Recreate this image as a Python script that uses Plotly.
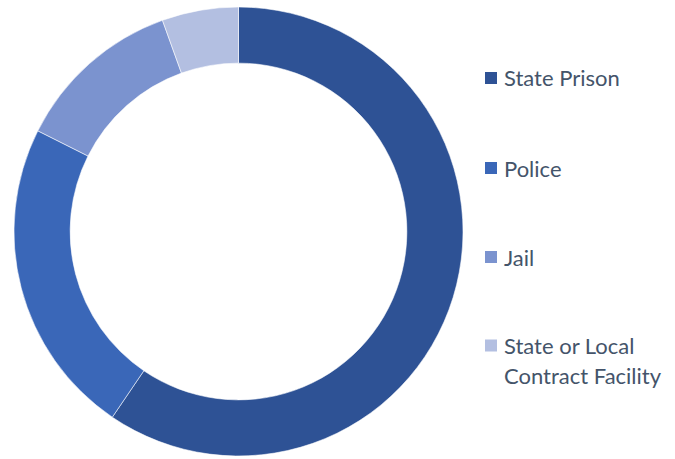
import plotly.graph_objects as go

# Share of cases by facility type
labels = ["State Prison", "Police", "Jail", "State or Local Contract Facility"]
shares = [59.5, 22.9, 12.1, 5.5]
legend_lines = [["State Prison"], ["Police"], ["Jail"], ["State or Local", "Contract Facility"]]
colors = ["#2e5295", "#3a67b8", "#7b93cf", "#b3bfe1"]

W, H = 675, 459
cx, cy, r = 238.5, 231.5, 224.5

fig = go.Figure(
    go.Pie(
        labels=labels,
        values=shares,
        hole=0.75,
        sort=False,
        direction="clockwise",
        rotation=0,
        textinfo="none",
        hoverinfo="label+percent",
        marker=dict(colors=colors, line=dict(color="rgba(255,255,255,0.7)", width=0.8)),
        showlegend=False,
        domain=dict(
            x=[(cx - r) / W, (cx + r) / W],
            y=[(H - cy - r) / H, (H - cy + r) / H],
        ),
    )
)

# Hand-placed legend on the right
key_x0, key_size, text_x = 485, 12, 502
row_y = [78, 168, 257, 345.5]
line_gap = 30
font = dict(family="Lato, 'Open Sans', sans-serif", size=22, color="#44546a")
shapes, annotations = [], []
for lines, color, y in zip(legend_lines, colors, row_y):
    shapes.append(dict(
        type="rect", xref="paper", yref="paper",
        x0=key_x0 / W, x1=(key_x0 + key_size) / W,
        y0=(H - y - key_size / 2) / H, y1=(H - y + key_size / 2) / H,
        fillcolor=color, line=dict(width=0),
    ))
    for i, line in enumerate(lines):
        annotations.append(dict(
            xref="paper", yref="paper",
            x=text_x / W, y=(H - (y + i * line_gap)) / H,
            xanchor="left", yanchor="middle",
            text=line, showarrow=False, font=font,
        ))

fig.update_layout(
    width=W, height=H,
    margin=dict(l=0, r=0, t=0, b=0),
    paper_bgcolor="white",
    plot_bgcolor="white",
    shapes=shapes,
    annotations=annotations,
)

fig.write_html("out.html")
